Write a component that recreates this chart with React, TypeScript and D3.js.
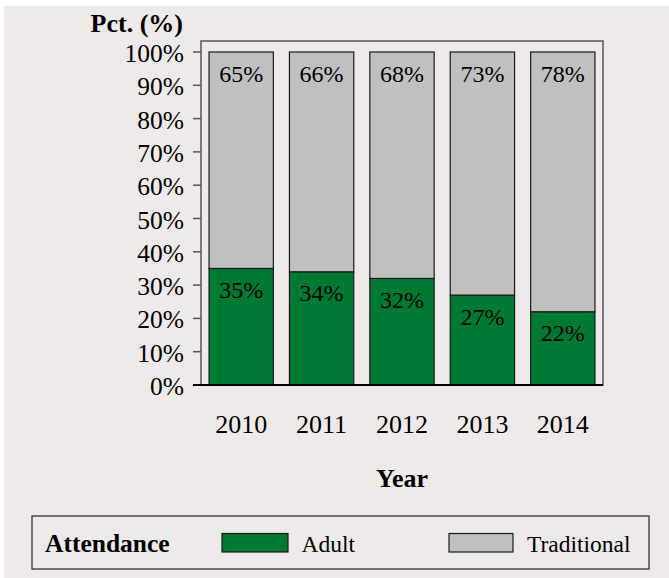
import React from "react";
import * as d3 from "d3";

const years = ["2010", "2011", "2012", "2013", "2014"];
const adult = [35, 34, 32, 27, 22];
const traditional = [65, 66, 68, 73, 78];
const yTicks = [0, 10, 20, 30, 40, 50, 60, 70, 80, 90, 100];
const seriesNames = ["Adult", "Traditional"];
const seriesColors = ["#007A33", "#C0C0C0"];

const W = 669;
const H = 578;
const FONT = "Liberation Serif";

export default function App() {
  const plotLeft = 201;
  const plotRight = 603;
  const plotTop = 41;
  const plotBottom = 385;

  const x = d3.scaleBand<string>().domain(years).range([plotLeft, plotRight]).paddingInner(0.2).paddingOuter(0.1);
  const y = d3.scaleLinear().domain([0, 100]).range([plotBottom, 52]);

  const rows = years.map((yr, i) => ({ year: yr, Adult: adult[i], Traditional: traditional[i] }));
  const stacked = d3.stack<any>().keys(seriesNames)(rows);
  const color = d3.scaleOrdinal<string, string>().domain(seriesNames).range(seriesColors);

  return (
    <svg width={W} height={H} style={{ position: "absolute", left: 0, top: 0 }}>
      <rect x={0} y={0} width={W} height={H} fill="#ffffff" />
      <rect x={4} y={6} width={W - 4} height={H - 6} fill="#EDEAE9" />

      {/* frame */}
      <rect x={plotLeft} y={plotTop} width={plotRight - plotLeft} height={plotBottom - plotTop} fill="none" stroke="#555" strokeWidth={1.5} />

      {/* bars */}
      {stacked.map((layer) => (
        <g key={layer.key}>
          {layer.map((d, i) => {
            const x0 = x(years[i])!;
            const top = y(d[1]);
            const bot = y(d[0]);
            return (
              <g key={i}>
                <rect x={x0} y={top} width={x.bandwidth()} height={bot - top} fill={color(layer.key)} stroke="#1a1a1a" strokeWidth={1.2} />
                <text x={x0 + x.bandwidth() / 2} y={top + 29.5} textAnchor="middle" fontSize={24} fontFamily={FONT} fill="#000">
                  {`${Math.round(d[1] - d[0])}%`}
                </text>
              </g>
            );
          })}
        </g>
      ))}

      {/* y axis ticks */}
      {yTicks.map((t) => (
        <g key={t}>
          <line x1={193} x2={plotLeft} y1={y(t)} y2={y(t)} stroke="#555" strokeWidth={1.5} />
          <text x={184} y={y(t) + 10} textAnchor="end" fontSize={25.5} fontFamily={FONT} fill="#000">{`${t}%`}</text>
        </g>
      ))}
      <line x1={193} x2={plotRight} y1={plotBottom} y2={plotBottom} stroke="#000" strokeWidth={1.8} />

      {/* x labels */}
      {years.map((yr) => (
        <text key={yr} x={x(yr)! + x.bandwidth() / 2} y={433} textAnchor="middle" fontSize={26} fontFamily={FONT} fill="#000">{yr}</text>
      ))}

      <text x={(plotLeft + plotRight) / 2} y={487} textAnchor="middle" fontSize={26} fontWeight="bold" fontFamily={FONT} fill="#000">Year</text>
      <text x={183} y={32} textAnchor="end" fontSize={26} fontWeight="bold" fontFamily={FONT} fill="#000">Pct. (%)</text>

      {/* legend */}
      <rect x={32} y={516} width={617} height={53} fill="none" stroke="#333" strokeWidth={1.3} />
      <text x={45} y={552} fontSize={25.5} fontWeight="bold" fontFamily={FONT} fill="#000">Attendance</text>
      <rect x={222} y={533.5} width={66} height={18.5} fill={color("Adult")} stroke="#1a1a1a" strokeWidth={1.2} />
      <text x={301.5} y={552} fontSize={23.5} fontFamily={FONT} fill="#000">Adult</text>
      <rect x={449} y={533.5} width={64} height={18.5} fill={color("Traditional")} stroke="#1a1a1a" strokeWidth={1.2} />
      <text x={527} y={552} fontSize={23.5} fontFamily={FONT} fill="#000">Traditional</text>
    </svg>
  );
}
